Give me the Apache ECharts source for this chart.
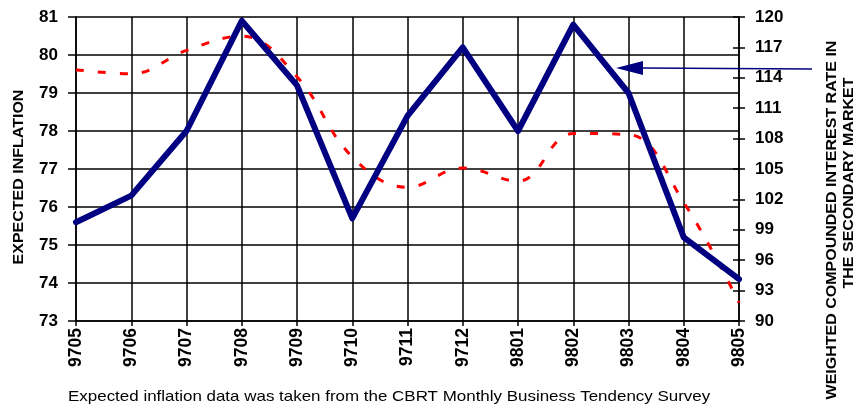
<!DOCTYPE html>
<html>
<head>
<meta charset="utf-8">
<script src="https://cdn.jsdelivr.net/npm/echarts@6/dist/echarts.min.js"></script>
<style>
  html, body { margin: 0; padding: 0; background: #fff; }
  #chart { width: 858px; height: 410px; }
</style>
</head>
<body>
<div id="chart"></div>
<script>
// months (YYMM)
var months = ['9705', '9706', '9707', '9708', '9709', '9710', '9711', '9712', '9801', '9802', '9803', '9804', '9805'];
// expected inflation, left axis
var expectedInflation = [75.6, 76.3, 78.0, 80.9, 79.2, 75.7, 78.4, 80.2, 78.0, 80.8, 79.0, 75.2, 74.1];
// weighted compounded interest rate, right axis
var interestRate = [114.8, 114.4, 116.7, 118.1, 114.1, 106.2, 103.2, 105.1, 103.8, 108.5, 108.4, 101.7, 91.8];

var leftTitle = 'EXPECTED INFLATION';
var rightTitle = ['WEIGHTED COMPOUNDED INTEREST RATE IN', 'THE SECONDARY MARKET'];
var caption = 'Expected inflation data was taken from the CBRT Monthly Business Tendency Survey';

var chart = echarts.init(document.getElementById('chart'));

var font = 'Liberation Sans, Arial, sans-serif';
var nameStyle = { fill: '#000', fontWeight: 'bold', fontSize: 16, fontFamily: font, align: 'center', verticalAlign: 'middle' };

function vText(txt, x, y) {
  return {
    type: 'text', x: x, y: y, rotation: Math.PI / 2, scaleY: 0.9,
    style: echarts.util.extend({ text: txt }, nameStyle)
  };
}

var option = {
  animation: false,
  backgroundColor: '#fff',
  grid: { left: 76, right: 119, top: 17, bottom: 89, outerBoundsMode: 'none', containLabel: false },
  xAxis: {
    type: 'category',
    data: months,
    boundaryGap: false,
    axisLine: { lineStyle: { color: '#000', width: 1.5 } },
    axisTick: { alignWithLabel: true, length: 5, lineStyle: { color: '#000', width: 1.5 } },
    axisLabel: { rotate: 90, margin: 7, color: '#000', fontWeight: 'bold', fontSize: 17.5, fontFamily: font },
    splitLine: { show: true, lineStyle: { color: '#000', width: 1.5 } }
  },
  yAxis: [
    {
      type: 'value',
      min: 73, max: 81, interval: 1,
      position: 'left',
      axisLine: { show: true, lineStyle: { color: '#000', width: 1.5 } },
      axisTick: { show: true, length: 8, lineStyle: { color: '#000', width: 1.5 } },
      axisLabel: { margin: 18, color: '#000', fontWeight: 'bold', fontSize: 17, fontFamily: font },
      splitLine: { show: true, lineStyle: { color: '#000', width: 1.5 } }
    },
    {
      type: 'value',
      min: 90, max: 120, interval: 3,
      position: 'right',
      axisLine: { show: true, lineStyle: { color: '#000', width: 1.5 } },
      axisTick: { show: true, length: 6, lineStyle: { color: '#000', width: 1.5 } },
      axisLabel: { margin: 16, color: '#000', fontWeight: 'bold', fontSize: 17, fontFamily: font },
      splitLine: { show: false }
    },
    {
      // inner half of the crossing ticks on the right axis
      type: 'value',
      min: 90, max: 120, interval: 3,
      position: 'right',
      axisLine: { show: false },
      axisTick: { show: true, inside: true, length: 6, lineStyle: { color: '#000', width: 1.5 } },
      axisLabel: { show: false },
      splitLine: { show: false }
    }
  ],
  series: [
    {
      name: 'Interest rate',
      type: 'line',
      yAxisIndex: 1,
      data: interestRate,
      smooth: 0.4,
      symbol: 'none',
      lineStyle: { color: '#ff0000', width: 3, type: [8, 14] },
      z: 3
    },
    {
      name: 'Expected inflation',
      type: 'line',
      yAxisIndex: 0,
      data: expectedInflation,
      symbol: 'none',
      lineStyle: { color: '#000080', width: 6, join: 'round', cap: 'round' },
      z: 4
    }
  ],
  graphic: [
    vText(leftTitle, 19, 177),
    vText(rightTitle[0], 832, 220),
    vText(rightTitle[1], 849, 183),
    {
      type: 'text',
      x: 68, y: 389,
      scaleX: 1.13,
      style: { text: caption, fill: '#000', fontSize: 15, fontFamily: font }
    },
    {
      type: 'line',
      shape: { x1: 642, y1: 68, x2: 812, y2: 69 },
      style: { stroke: '#000080', lineWidth: 1.5 },
      z: 10
    },
    {
      type: 'polygon',
      shape: { points: [[616, 68], [643, 61], [643, 75]] },
      style: { fill: '#000080' },
      z: 10
    }
  ]
};

chart.setOption(option);
</script>
</body>
</html>
